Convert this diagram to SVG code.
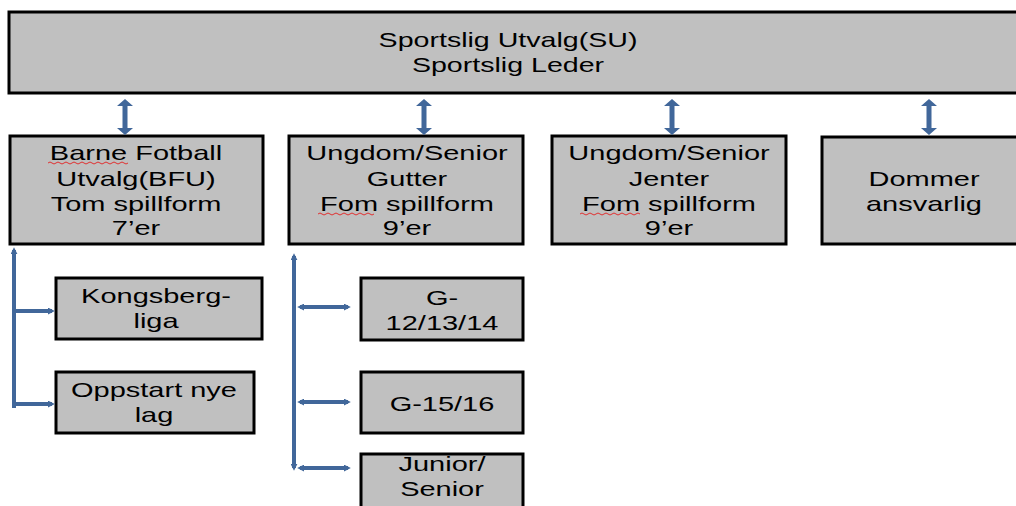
<svg xmlns="http://www.w3.org/2000/svg" width="1016" height="506" viewBox="0 0 1016 506">
<style>
.box{fill:#c0c0c0;stroke:#000;stroke-width:3}
.t{font-family:"Liberation Sans",Arial,sans-serif;font-size:20px;fill:#000;text-anchor:middle}
.ln{stroke:#41679a;stroke-width:4;fill:none}
.arr{fill:#41679a}
.sq{stroke:#e03030;stroke-width:1;fill:none}
</style>
<defs>
<marker id="ah" viewBox="0 0 10 10" refX="6" refY="5" markerWidth="7" markerHeight="7" markerUnits="userSpaceOnUse" orient="auto-start-reverse">
<path d="M0,0 L10,5 L0,10 z" fill="#41679a"/>
</marker>
</defs>
<rect width="1016" height="506" fill="#fff"/>

<g id="su">
<rect class="box" x="9" y="12" width="1015" height="81"/>
<text class="t" transform="translate(508,47) scale(1.43,1)">Sportslig Utvalg(SU)</text>
<text class="t" transform="translate(508,72) scale(1.43,1)">Sportslig Leder</text>
</g>

<g id="bfu">
<rect class="box" x="10" y="136" width="253" height="108"/>
<text class="t" transform="translate(136,160) scale(1.45,1)">Barne Fotball</text>
<text class="t" transform="translate(136,186) scale(1.45,1)">Utvalg(BFU)</text>
<text class="t" transform="translate(136,211) scale(1.45,1)">Tom spillform</text>
<text class="t" transform="translate(136,235) scale(1.45,1)">7’er</text>
<path class="sq" d="M48,163 q2,-2 4,0 t4,0 t4,0 t4,0 t4,0 t4,0 t4,0 t4,0 t4,0 t4,0 t4,0 t4,0 t4,0 t4,0 t4,0 t4,0 t4,0 t4,0 t4,0 t4,0"/>
</g>

<g id="gutter">
<rect class="box" x="289" y="136" width="234" height="108"/>
<text class="t" transform="translate(407,160) scale(1.45,1)">Ungdom/Senior</text>
<text class="t" transform="translate(407,186) scale(1.45,1)">Gutter</text>
<text class="t" transform="translate(407,211) scale(1.45,1)">Fom spillform</text>
<text class="t" transform="translate(407,235) scale(1.45,1)">9’er</text>
<path class="sq" d="M318,214 q2,-2 4,0 t4,0 t4,0 t4,0 t4,0 t4,0 t4,0 t4,0 t4,0 t4,0 t4,0 t4,0 t4,0 t4,0"/>
</g>

<g id="jenter">
<rect class="box" x="552" y="136" width="234" height="108"/>
<text class="t" transform="translate(669,160) scale(1.45,1)">Ungdom/Senior</text>
<text class="t" transform="translate(669,186) scale(1.45,1)">Jenter</text>
<text class="t" transform="translate(669,211) scale(1.45,1)">Fom spillform</text>
<text class="t" transform="translate(669,235) scale(1.45,1)">9’er</text>
<path class="sq" d="M580,214 q2,-2 4,0 t4,0 t4,0 t4,0 t4,0 t4,0 t4,0 t4,0 t4,0 t4,0 t4,0 t4,0 t4,0 t4,0 t4,0"/>
</g>

<g id="dommer">
<rect class="box" x="822" y="137" width="202" height="107"/>
<text class="t" transform="translate(924,186) scale(1.45,1)">Dommer</text>
<text class="t" transform="translate(924,211) scale(1.45,1)">ansvarlig</text>
</g>

<g id="kongsberg">
<rect class="box" x="56" y="278" width="206" height="61"/>
<text class="t" transform="translate(156,303) scale(1.45,1)">Kongsberg-</text>
<text class="t" transform="translate(156,328) scale(1.45,1)">liga</text>
</g>

<g id="oppstart">
<rect class="box" x="56" y="372" width="198" height="61"/>
<text class="t" transform="translate(154,397) scale(1.45,1)">Oppstart nye</text>
<text class="t" transform="translate(154,422) scale(1.45,1)">lag</text>
</g>

<g id="g121314">
<rect class="box" x="361" y="278" width="162" height="62"/>
<text class="t" transform="translate(442,305) scale(1.45,1)">G-</text>
<text class="t" transform="translate(442,330) scale(1.45,1)">12/13/14</text>
</g>

<g id="g1516">
<rect class="box" x="361" y="372" width="162" height="61"/>
<text class="t" transform="translate(442,411) scale(1.45,1)">G-15/16</text>
</g>

<g id="junior">
<rect class="box" x="361" y="454" width="162" height="60"/>
<text class="t" transform="translate(442,471) scale(1.45,1)">Junior/</text>
<text class="t" transform="translate(442,496) scale(1.45,1)">Senior</text>
</g>

<g id="connectors">
<path class="arr" d="M125,99 L133,106 L127.5,106 L127.5,128 L133,128 L125,135 L117,128 L122.5,128 L122.5,106 L117,106 Z"/>
<path class="arr" d="M424,99 L432,106 L426.5,106 L426.5,128 L432,128 L424,135 L416,128 L421.5,128 L421.5,106 L416,106 Z"/>
<path class="arr" d="M672,99 L680,106 L674.5,106 L674.5,128 L680,128 L672,135 L664,128 L669.5,128 L669.5,106 L664,106 Z"/>
<path class="arr" d="M929,99 L937,106 L931.5,106 L931.5,128 L937,128 L929,135 L921,128 L926.5,128 L926.5,106 L921,106 Z"/>

<line class="ln" x1="14" y1="408" x2="14" y2="250" marker-end="url(#ah)"/>
<line class="ln" x1="14" y1="311" x2="52" y2="311" marker-end="url(#ah)"/>
<line class="ln" x1="14" y1="404" x2="52" y2="404" marker-end="url(#ah)"/>

<line class="ln" x1="294" y1="256" x2="294" y2="468" marker-start="url(#ah)" marker-end="url(#ah)"/>
<line class="ln" x1="300" y1="307" x2="348" y2="307" marker-start="url(#ah)" marker-end="url(#ah)"/>
<line class="ln" x1="300" y1="402" x2="348" y2="402" marker-start="url(#ah)" marker-end="url(#ah)"/>
<line class="ln" x1="300" y1="468" x2="348" y2="468" marker-start="url(#ah)" marker-end="url(#ah)"/>
</g>
</svg>
